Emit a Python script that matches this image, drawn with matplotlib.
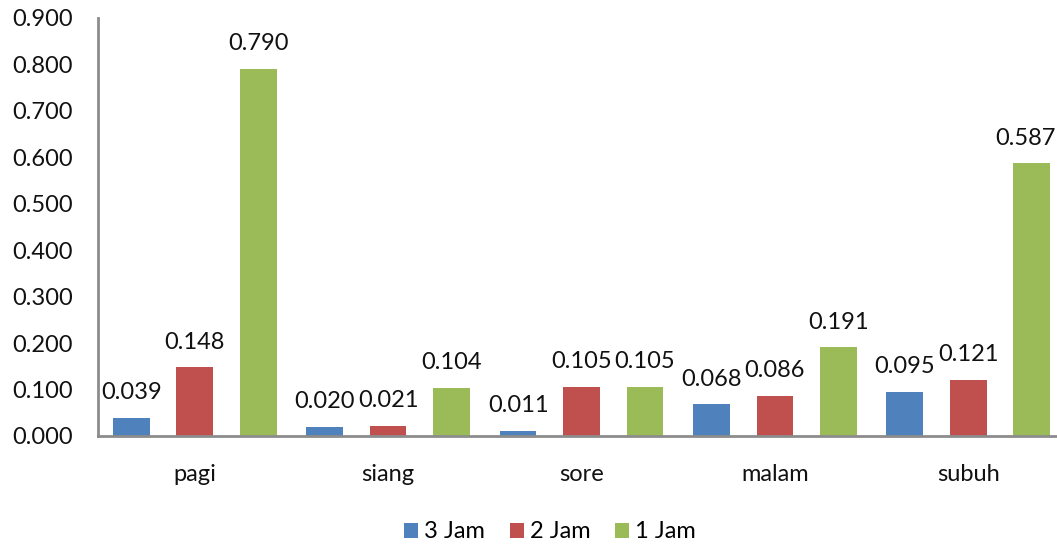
import matplotlib
matplotlib.use("Agg")
import matplotlib.pyplot as plt
import numpy as np
from matplotlib.patches import Patch

categories = ["pagi", "siang", "sore", "malam", "subuh"]
series_names = ["3 Jam", "2 Jam", "1 Jam"]
jam3 = [0.039, 0.020, 0.011, 0.068, 0.095]
jam2 = [0.148, 0.021, 0.105, 0.086, 0.121]
jam1 = [0.790, 0.104, 0.105, 0.191, 0.587]
yticks = [0.0, 0.1, 0.2, 0.3, 0.4, 0.5, 0.6, 0.7, 0.8, 0.9]

colors = ["#4F81BD", "#C0504D", "#9BBB59"]
plt.rcParams["font.family"] = ["Lato", "DejaVu Sans"]
FS = 17

fig = plt.figure(figsize=(10.57, 5.45), dpi=100)
ax = fig.add_axes([98 / 1057, 1 - 436 / 545, 967 / 1057, 418 / 545])

x = np.arange(len(categories))
width = 0.19
offsets = [-0.328, 0.0, 0.328]
labels = []
for vals, off, col, name in zip([jam3, jam2, jam1], offsets, colors, series_names):
    bars = ax.bar(x + off, vals, width, color=col, label=name, zorder=2)
    for b, v in zip(bars, vals):
        t = ax.annotate(f"{v:.3f}", (b.get_x() + b.get_width() / 2, v),
                        xytext=(0, 13.5), textcoords="offset points",
                        ha="center", va="baseline", fontsize=FS, color="#111111",
                        annotation_clip=False)
        labels.append(t)

ax.set_xlim(-0.5, len(categories) - 0.5)
ax.set_ylim(0, 0.9)
ax.set_yticks(yticks)
ax.set_yticklabels([f"{t:.3f}" for t in yticks], fontsize=FS, color="#111111",
                   va="center_baseline")
ax.set_xticks(x)
ax.set_xticklabels(categories, fontsize=FS, color="#111111")
ax.tick_params(axis="y", length=0, pad=18)
ax.tick_params(axis="x", length=0, pad=20)

for side in ["top", "right"]:
    ax.spines[side].set_visible(False)
for side in ["left", "bottom"]:
    ax.spines[side].set_color("#8C8C8C")
    ax.spines[side].set_linewidth(2)

handles = [Patch(facecolor=c, edgecolor="none") for c in colors]
fig.legend(handles, series_names, loc="center", bbox_to_anchor=(550 / 1057, 1 - 532 / 545),
           ncol=3, frameon=False, fontsize=FS, handlelength=0.6, handleheight=0.6,
           handletextpad=0.25, columnspacing=1.05)

# keep value labels inside the figure's right edge
fig.canvas.draw()
renderer = fig.canvas.get_renderer()
fig_w = fig.bbox.width
for t in labels:
    bb = t.get_window_extent(renderer)
    overflow = bb.x1 - (fig_w - 1)
    if overflow > 0:
        dx_pt = -overflow * 72 / fig.dpi
        t.xyann = (t.xyann[0] + dx_pt, t.xyann[1])

fig.savefig("out.png", dpi=100)
